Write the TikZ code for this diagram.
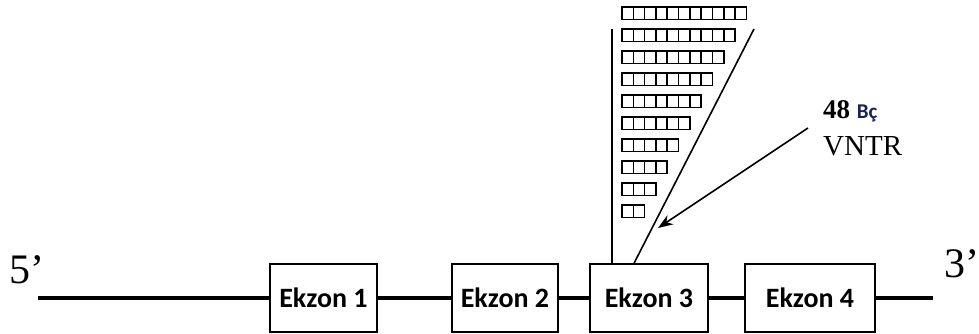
\documentclass[tikz,border=0pt]{standalone}
\usepackage{fontspec}
\setmainfont{Liberation Serif}
\newfontfamily\ekzonfont{Carlito}
\usetikzlibrary{arrows.meta}
\definecolor{bclacivert}{RGB}{25,35,80}
\tikzset{
  ekzon/.style={draw, line width=1.8pt, fill=white, minimum width=#1, minimum height=68pt,
    inner sep=0pt, font=\ekzonfont\bfseries\fontsize{28}{30}\selectfont},
  tekrar/.style={line width=1.6pt},
  uc/.style={font=\fontsize{42}{44}\selectfont, inner sep=0pt}
}
\begin{document}
\begin{tikzpicture}[x=1pt, y=-1pt, >={Stealth[length=15pt,width=11pt]}]
\useasboundingbox (0,0) rectangle (979,334);
% gen hatti ve ekzonlar
\coordinate (bas) at (38,298);
\coordinate (son) at (933,298);
\node[ekzon=107pt] (ex1) at (323.5,298) {Ekzon 1};
\node[ekzon=106pt] (ex2) at (505,298) {Ekzon 2};
\node[ekzon=118pt] (ex3) at (649,298) {Ekzon 3};
\node[ekzon=130pt] (ex4) at (810,298) {Ekzon 4};
\draw[line width=4pt] (bas) -- (ex1) (ex1) -- (ex2) (ex2) -- (ex3) (ex3) -- (ex4) (ex4) -- (son);
\node[uc, anchor=base west] (u5) at (9,283) {5’};
\node[uc, anchor=base west] (u3) at (944,277) {3’};
% VNTR tekrarlari
\foreach \r in {0,...,9} {
  \pgfmathtruncatemacro\n{10-\r}
  \foreach \k in {0,...,\n}
    \draw[tekrar] (622+11.3*\k, 7+22*\r) rectangle ++(11.3,12.5);
}
\coordinate (dik) at (612,29);
\coordinate (capraz) at (754,29);
\coordinate (taban) at ([xshift=45pt]ex3.north west);
\draw[line width=1.6pt] (dik) -- (dik |- ex3.north);
\draw[line width=1.6pt] (capraz) -- (taban);
% etiket ve ok
\node[anchor=base west, inner sep=0pt] (etiket) at (823,118)
  {\bfseries\fontsize{27}{29}\selectfont 48 {\ekzonfont\fontsize{21}{22}\selectfont\color{bclacivert}Bç}};
\node[anchor=base west, inner sep=0pt, font=\fontsize{29}{31}\selectfont] (vntr) at (823,155) {VNTR};
\coordinate (okbas) at (808,128);
\coordinate (okuc) at (658,228);
\draw[->, line width=1.6pt] (okbas) -- (okuc);
\end{tikzpicture}
\end{document}
